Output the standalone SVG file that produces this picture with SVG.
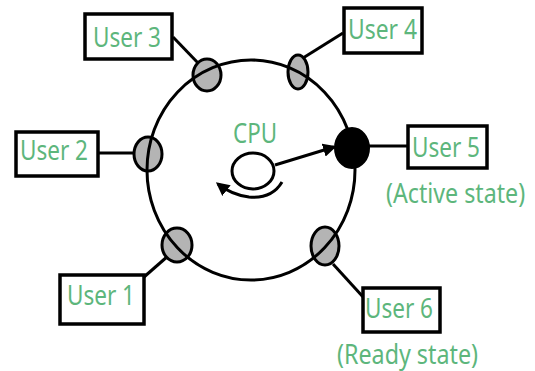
<svg xmlns="http://www.w3.org/2000/svg" width="535" height="371" viewBox="0 0 535 371">
<style>
.box{fill:#fff;stroke:#000;stroke-width:3.5}
.port{fill:#b4b4b4;stroke:#000;stroke-width:3}
.lbl{font-family:"Noto Sans","Open Sans",sans-serif;font-size:27px;fill:#5db67c}
.ln{stroke:#000;stroke-width:3;fill:none}
</style>
<defs>
<marker id="ah" viewBox="0 0 10 10" refX="8" refY="5" markerWidth="4.5" markerHeight="4.5" orient="auto" markerUnits="strokeWidth">
<path d="M0,0 L10,5 L0,10 z" fill="#000"/>
</marker>
</defs>
<rect width="535" height="371" fill="#fff"/>
<g id="connectors">
<line x1="173" y1="37" x2="199" y2="64" class="ln"/>
<line x1="98" y1="153" x2="134" y2="153" class="ln"/>
<line x1="343" y1="33" x2="303" y2="58" class="ln"/>
<line x1="368" y1="146" x2="407" y2="146" class="ln"/>
<line x1="144" y1="277" x2="168" y2="256" class="ln"/>
<line x1="333" y1="264" x2="364" y2="298" class="ln"/>
<line x1="275" y1="165" x2="334" y2="147" class="ln" marker-end="url(#ah)"/>
<path d="M282,182 Q272,199 249,197 Q232,195 218,184" class="ln" marker-end="url(#ah)"/>
</g>
<g id="cpu">
<ellipse cx="253" cy="171" rx="21" ry="18" class="ln"/>
<text x="233" y="143" class="lbl" font-size="24" textLength="44" lengthAdjust="spacingAndGlyphs">CPU</text>
</g>
<g id="user3">
<ellipse cx="207" cy="75" rx="14" ry="16" class="port"/>
<rect x="85" y="14" width="87" height="45" class="box"/>
<text x="93" y="47" class="lbl" textLength="68" lengthAdjust="spacingAndGlyphs">User 3</text>
</g>
<g id="user2">
<ellipse cx="148" cy="154" rx="14" ry="17" class="port"/>
<rect x="16" y="132" width="82" height="44" class="box"/>
<text x="20" y="160" class="lbl" textLength="68" lengthAdjust="spacingAndGlyphs">User 2</text>
</g>
<g id="user4">
<ellipse cx="298" cy="72" rx="10" ry="17" class="port"/>
<rect x="344" y="8" width="78" height="45" class="box"/>
<text x="348" y="39" class="lbl" textLength="69" lengthAdjust="spacingAndGlyphs">User 4</text>
</g>
<g id="user5">
<ellipse cx="352" cy="148" rx="17" ry="20" fill="#000" stroke="#000" stroke-width="2"/>
<rect x="408" y="126" width="79" height="42" class="box"/>
<text x="412" y="157" class="lbl" textLength="68" lengthAdjust="spacingAndGlyphs">User 5</text>
<text transform="translate(386,203) scale(0.86,1)" class="lbl" font-size="25">(Active state)</text>
</g>
<g id="user1">
<ellipse cx="177" cy="245" rx="15" ry="17" class="port"/>
<rect x="60" y="275" width="84" height="49" class="box"/>
<text x="67" y="305" class="lbl" textLength="68" lengthAdjust="spacingAndGlyphs">User 1</text>
</g>
<g id="user6">
<ellipse cx="325" cy="246" rx="14" ry="19" class="port"/>
<rect x="363" y="288" width="77" height="44" class="box"/>
<text x="365" y="318" class="lbl" textLength="68" lengthAdjust="spacingAndGlyphs">User 6</text>
<text x="337" y="364" class="lbl" textLength="141" lengthAdjust="spacingAndGlyphs">(Ready state)</text>
</g>
<g id="ring">
<ellipse cx="251" cy="170" rx="104" ry="110" class="ln"/>
</g>
</svg>
